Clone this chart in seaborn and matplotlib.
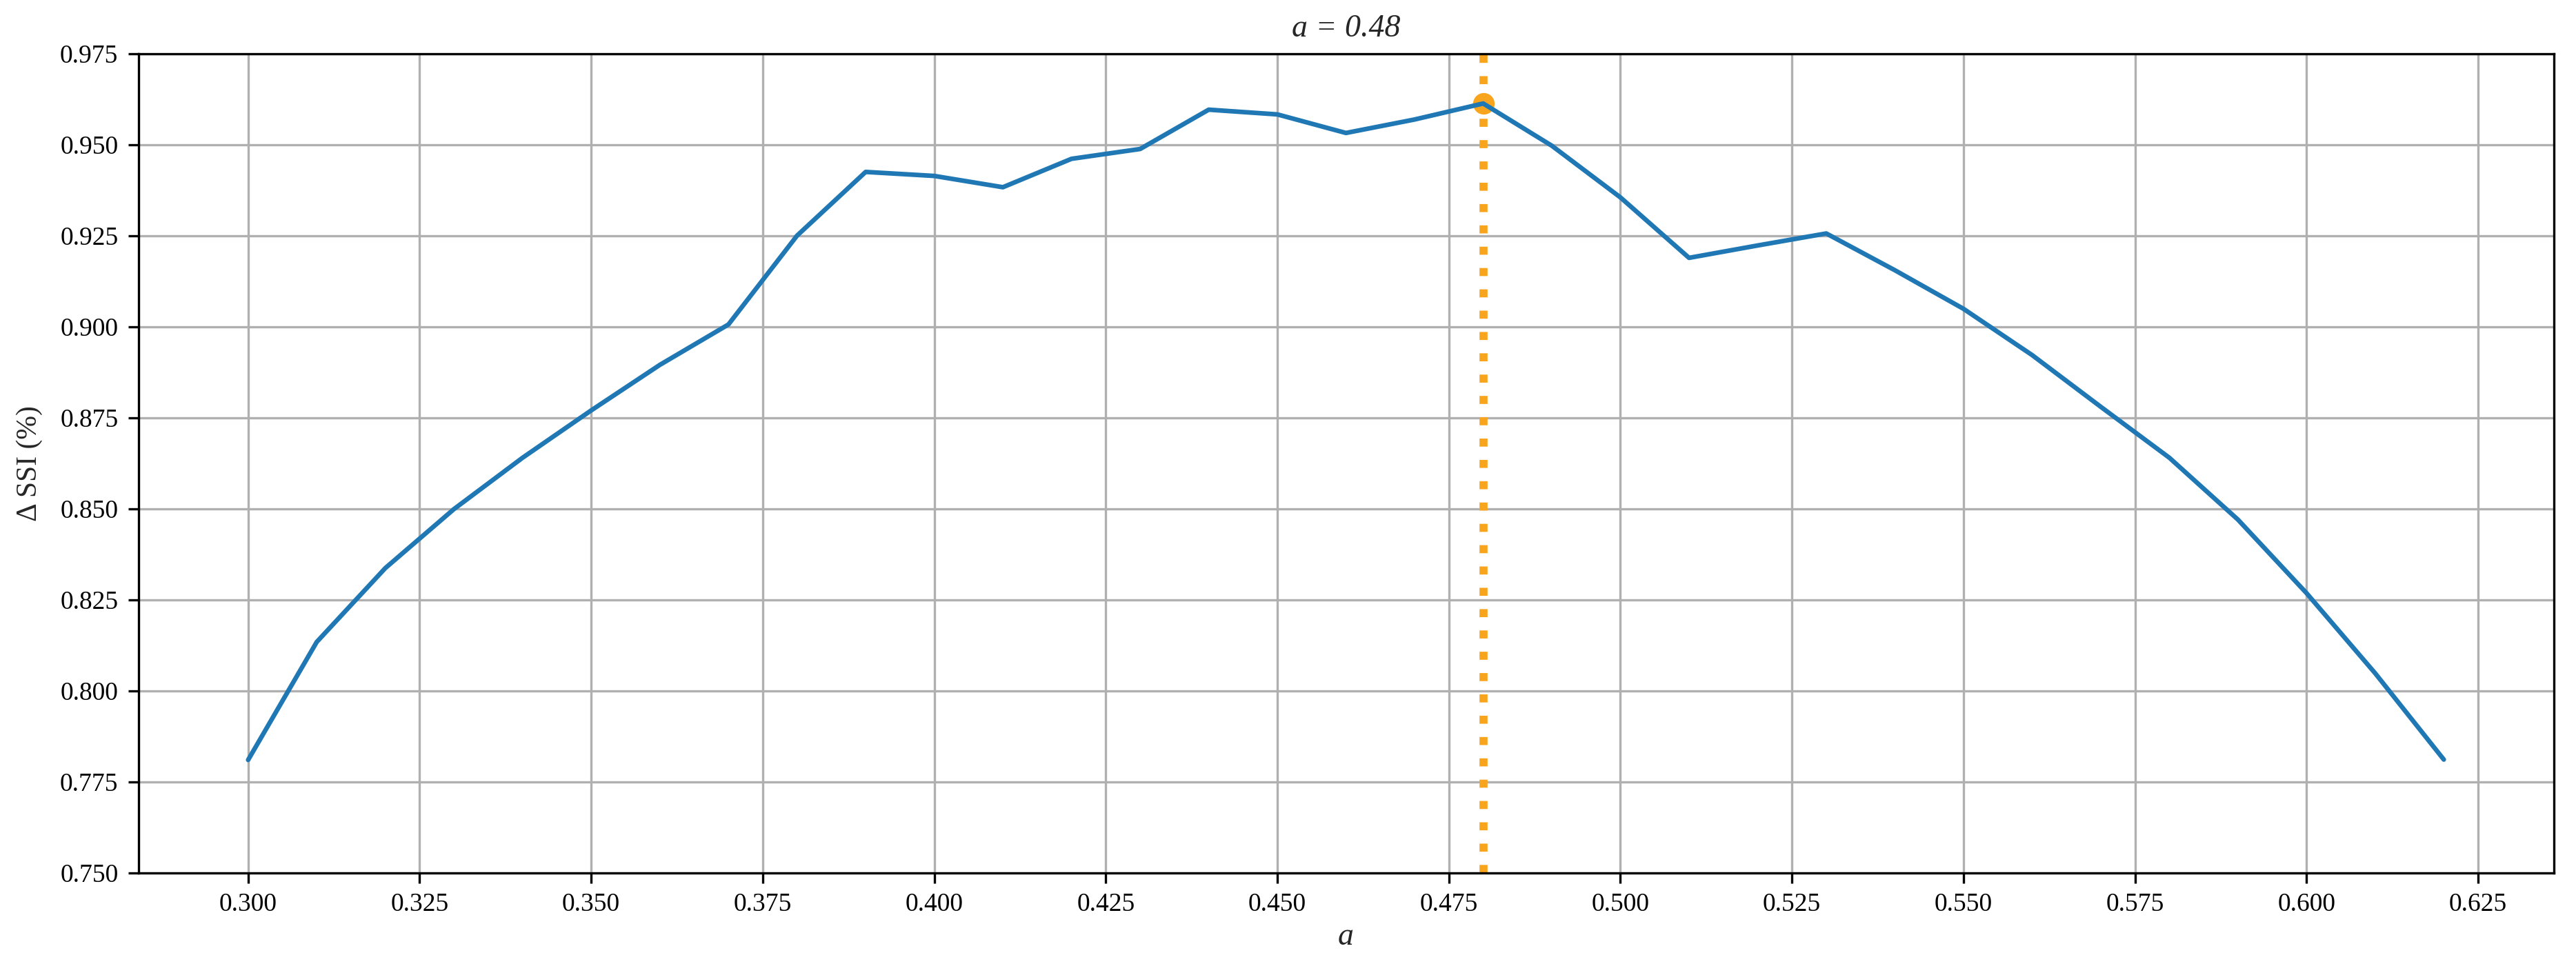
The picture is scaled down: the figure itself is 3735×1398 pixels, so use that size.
"""
Delta SSI vs. parameter a, with the best value marked
"""

import pandas as pd
import matplotlib
matplotlib.use('Agg')
import matplotlib.pyplot as plt
import seaborn as sns

# ── Data ─────────────────────────────────────────────────────────────────────
A_VALUES = [0.30, 0.31, 0.32, 0.33, 0.34, 0.35, 0.36, 0.37, 0.38, 0.39, 0.40,
            0.41, 0.42, 0.43, 0.44, 0.45, 0.46, 0.47, 0.48, 0.49, 0.50, 0.51,
            0.52, 0.53, 0.54, 0.55, 0.56, 0.57, 0.58, 0.59, 0.60, 0.61, 0.62]
DSSI = [0.7810, 0.8134, 0.8337, 0.8499, 0.8640, 0.8770, 0.8895, 0.9006,
        0.9250, 0.9425, 0.9414, 0.9383, 0.9461, 0.9488, 0.9596, 0.9583,
        0.9532, 0.9569, 0.9613, 0.9497, 0.9355, 0.9189, 0.9223, 0.9256,
        0.9155, 0.9049, 0.8922, 0.8780, 0.8640, 0.8470, 0.8268, 0.8048,
        0.7811]
Y_TICKS = [0.750, 0.775, 0.800, 0.825, 0.850, 0.875, 0.900, 0.925, 0.950, 0.975]
X_TICKS = [0.300, 0.325, 0.350, 0.375, 0.400, 0.425, 0.450, 0.475, 0.500,
           0.525, 0.550, 0.575, 0.600, 0.625]

df = pd.DataFrame({"a": A_VALUES, "dssi": DSSI})
best = df.loc[df["dssi"].idxmax()]

# ── Style ────────────────────────────────────────────────────────────────────
sns.set_style("ticks")
plt.rcParams.update({
    "font.family":      ["Liberation Serif", "DejaVu Serif"],
    "axes.edgecolor":   "black",
    "axes.linewidth":   0.8,
    "xtick.color":      "black",
    "ytick.color":      "black",
    "xtick.major.size": 3.5,
    "ytick.major.size": 3.5,
    "xtick.major.width": 0.8,
    "ytick.major.width": 0.8,
    "grid.color":       "#b0b0b0",
    "grid.linewidth":   0.8,
    "grid.linestyle":   "-",
})

BLUE   = "#1f77b4"
ORANGE = "#f9a41d"

fig, ax = plt.subplots(figsize=(12.45, 4.66), dpi=300)
fig.subplots_adjust(left=0.0537, right=0.9913, top=0.9444, bottom=0.0946)

sns.lineplot(data=df, x="a", y="dssi", color=BLUE, lw=1.6, ax=ax, zorder=3)
ax.axvline(best["a"], color=ORANGE, lw=2.8, linestyle=":", zorder=2)
ax.plot(best["a"], best["dssi"], "o", color=ORANGE, ms=6.5, zorder=2)

ax.set_ylim(0.75, 0.975)
ax.set_yticks(Y_TICKS)
ax.set_xticks(X_TICKS)
ax.set_yticklabels([f"{t:.3f}" for t in Y_TICKS], fontsize=9)
ax.set_xticklabels([f"{t:.3f}" for t in X_TICKS], fontsize=9)
ax.grid(True)
ax.set_axisbelow(True)

ax.set_title(f"a = {best['a']:.2f}", fontsize=11, fontstyle="italic", pad=6)
ax.set_xlabel("a", fontsize=11, fontstyle="italic", labelpad=2)
ax.set_ylabel("Δ SSI (%)", fontsize=10, labelpad=6)

plt.savefig("out.png", dpi=300)
plt.close()
